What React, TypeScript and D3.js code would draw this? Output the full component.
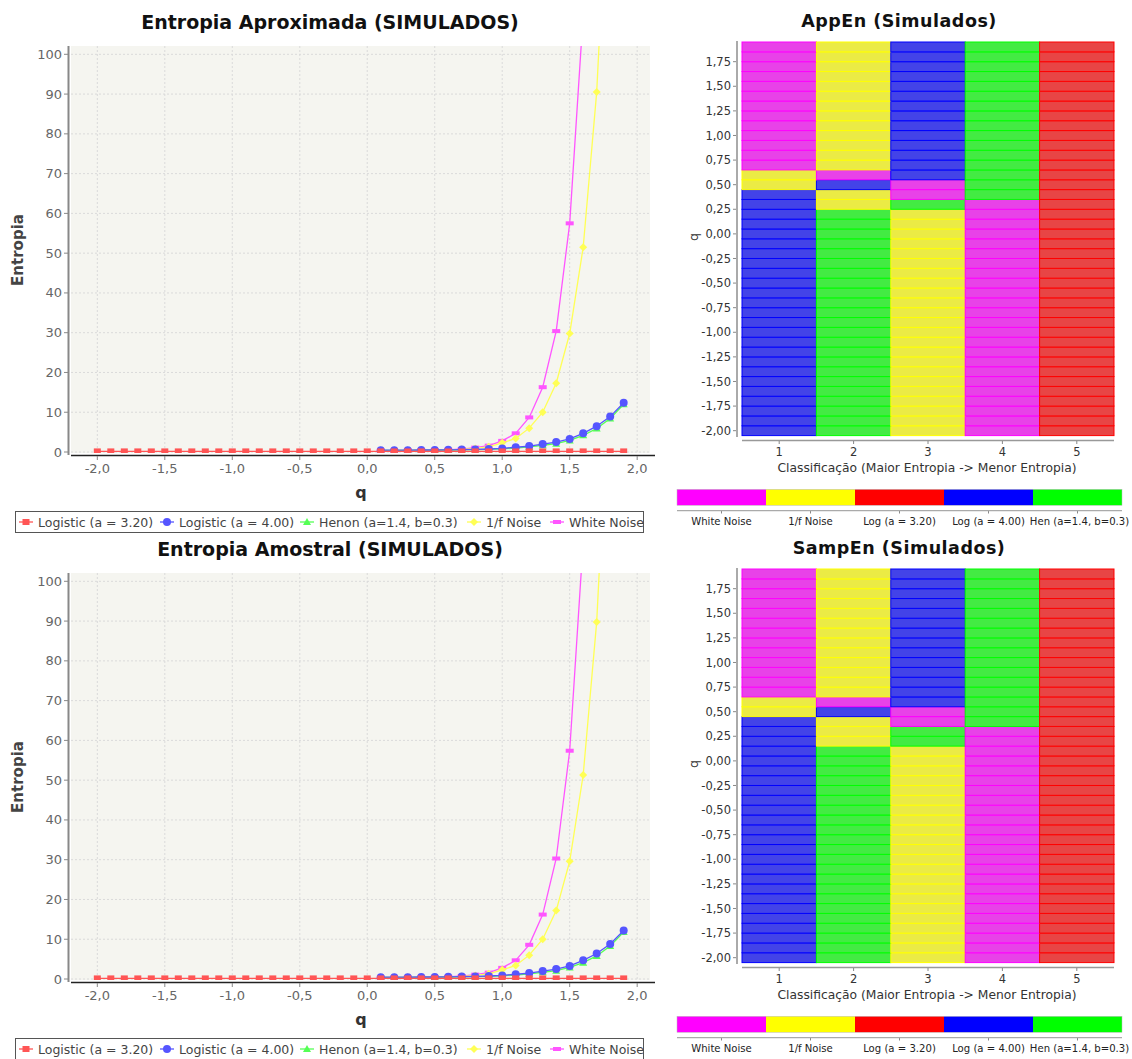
import React from 'react';
import * as d3 from 'd3';

// q values (x of line charts, rows of heatmaps)
const qAll = [
  -2.0, -1.9, -1.8, -1.7, -1.6, -1.5, -1.4, -1.3, -1.2, -1.1,
  -1.0, -0.9, -0.8, -0.7, -0.6, -0.5, -0.4, -0.3, -0.2, -0.1,
  0.0, 0.1, 0.2, 0.3, 0.4, 0.5, 0.6, 0.7, 0.8, 0.9,
  1.0, 1.1, 1.2, 1.3, 1.4, 1.5, 1.6, 1.7, 1.8, 1.9,
];
const qPos = [0.1, 0.2, 0.3, 0.4, 0.5, 0.6, 0.7, 0.8, 0.9, 1.0, 1.1, 1.2, 1.3, 1.4, 1.5, 1.6, 1.7, 1.8, 1.9];

// Entropia Aproximada
const appLog320 = [
  0.15, 0.15, 0.15, 0.15, 0.15, 0.15, 0.15, 0.15, 0.15, 0.15,
  0.15, 0.15, 0.15, 0.15, 0.15, 0.15, 0.15, 0.15, 0.15, 0.15,
  0.15, 0.15, 0.15, 0.15, 0.15, 0.15, 0.15, 0.15, 0.15, 0.15,
  0.15, 0.15, 0.15, 0.15, 0.15, 0.15, 0.15, 0.15, 0.15, 0.15,
];
const appLog400 = [0.45, 0.45, 0.45, 0.5, 0.5, 0.55, 0.6, 0.65, 0.75, 0.9, 1.2, 1.5, 2.0, 2.5, 3.3, 4.7, 6.5, 8.9, 12.4];
const appHenon = [0.4, 0.4, 0.4, 0.45, 0.45, 0.5, 0.55, 0.6, 0.65, 0.8, 1.0, 1.3, 1.7, 2.1, 2.9, 4.2, 5.9, 8.4, 12.0];
const appPink = [0.35, 0.35, 0.4, 0.4, 0.45, 0.5, 0.65, 0.9, 1.3, 2.3, 3.4, 6.0, 10.0, 17.3, 29.8, 51.5, 90.5, 158, 280];
const appWhite = [0.3, 0.3, 0.35, 0.4, 0.45, 0.55, 0.75, 1.1, 1.6, 2.8, 4.7, 8.7, 16.3, 30.4, 57.5, 110, 205, 385, 720];

// Entropia Amostral
const sampLog320 = [
  0.15, 0.15, 0.15, 0.15, 0.15, 0.15, 0.15, 0.15, 0.15, 0.15,
  0.15, 0.15, 0.15, 0.15, 0.15, 0.15, 0.15, 0.15, 0.15, 0.15,
  0.15, 0.15, 0.15, 0.15, 0.15, 0.15, 0.15, 0.15, 0.15, 0.15,
  0.15, 0.15, 0.15, 0.15, 0.15, 0.15, 0.15, 0.15, 0.15, 0.15,
];
const sampLog400 = [0.45, 0.45, 0.45, 0.5, 0.5, 0.55, 0.6, 0.65, 0.75, 0.9, 1.2, 1.5, 2.0, 2.5, 3.3, 4.7, 6.4, 8.8, 12.2];
const sampHenon = [0.4, 0.4, 0.4, 0.45, 0.45, 0.5, 0.55, 0.6, 0.65, 0.8, 1.0, 1.3, 1.7, 2.1, 2.9, 4.1, 5.8, 8.3, 11.8];
const sampPink = [0.35, 0.35, 0.4, 0.4, 0.45, 0.5, 0.65, 0.9, 1.3, 2.3, 3.4, 6.0, 10.0, 17.2, 29.6, 51.3, 89.8, 157, 278];
const sampWhite = [0.3, 0.3, 0.35, 0.4, 0.45, 0.55, 0.75, 1.1, 1.6, 2.8, 4.7, 8.6, 16.2, 30.3, 57.4, 110, 205, 385, 720];

const yTicks = [0, 10, 20, 30, 40, 50, 60, 70, 80, 90, 100];
const xTicks = [-2.0, -1.5, -1.0, -0.5, 0.0, 0.5, 1.0, 1.5, 2.0];
const heatYTicks = [-2.0, -1.75, -1.5, -1.25, -1.0, -0.75, -0.5, -0.25, 0.0, 0.25, 0.5, 0.75, 1.0, 1.25, 1.5, 1.75];
const ranks = [1, 2, 3, 4, 5];

// ranking bands [qFrom, qTo, order rank1..rank5]
const appEnBands: [number, number, string[]][] = [
  [-2.0, 0.2, ['L4', 'HN', 'PN', 'WN', 'L3']],
  [0.3, 0.3, ['L4', 'PN', 'HN', 'WN', 'L3']],
  [0.4, 0.4, ['L4', 'PN', 'WN', 'HN', 'L3']],
  [0.5, 0.5, ['PN', 'L4', 'WN', 'HN', 'L3']],
  [0.6, 0.6, ['PN', 'WN', 'L4', 'HN', 'L3']],
  [0.7, 1.9, ['WN', 'PN', 'L4', 'HN', 'L3']],
];
const sampEnBands: [number, number, string[]][] = [
  [-2.0, 0.1, ['L4', 'HN', 'PN', 'WN', 'L3']],
  [0.2, 0.3, ['L4', 'PN', 'HN', 'WN', 'L3']],
  [0.4, 0.4, ['L4', 'PN', 'WN', 'HN', 'L3']],
  [0.5, 0.5, ['PN', 'L4', 'WN', 'HN', 'L3']],
  [0.6, 0.6, ['PN', 'WN', 'L4', 'HN', 'L3']],
  [0.7, 1.9, ['WN', 'PN', 'L4', 'HN', 'L3']],
];

const legendCodes = ['WN', 'PN', 'L3', 'L4', 'HN'];
const legendNames = ['White Noise', '1/f Noise', 'Log (a = 3.20)', 'Log (a = 4.00)', 'Hen (a=1.4, b=0.3)'];

const pureColor: Record<string, string> = { WN: '#ff00ff', PN: '#ffff00', L3: '#ff0000', L4: '#0000ff', HN: '#00ff00' };
const cellColor: Record<string, string> = { WN: '#e842e8', PN: '#ebeb45', L3: '#e84545', L4: '#4343e8', HN: '#43eb43' };

const seriesNames = ['Logistic (a = 3.20)', 'Logistic (a = 4.00)', 'Henon (a=1.4, b=0.3)', '1/f Noise', 'White Noise'];
const seriesColors = ['#ff5555', '#5555ff', '#55ff55', '#ffff55', '#ff55ff'];
const seriesShapes = ['square', 'circle', 'triangle', 'diamond', 'hrect'];
const legendMarkX = [26, 167, 307, 474, 557];

const loc = d3.formatLocale({ decimal: ',', thousands: '.', grouping: [3], currency: ['', ''], minus: '-' });
const fmt1 = loc.format('.1f');
const fmt2 = loc.format('.2f');

const FONT = 'DejaVu Sans, sans-serif';
const OFFSET = 527;

function Marker({ shape, cx, cy, color }: { shape: string; cx: number; cy: number; color: string }) {
  if (shape === 'square') return <rect x={cx - 3.5} y={cy - 3} width={7} height={6} fill={color} />;
  if (shape === 'circle') return <circle cx={cx} cy={cy} r={4} fill={color} />;
  if (shape === 'triangle') return <path d={`M${cx},${cy - 4}L${cx + 4},${cy + 3}L${cx - 4},${cy + 3}Z`} fill={color} />;
  if (shape === 'diamond') return <path d={`M${cx},${cy - 4}L${cx + 4},${cy}L${cx},${cy + 4}L${cx - 4},${cy}Z`} fill={color} />;
  return <rect x={cx - 4} y={cy - 2} width={8} height={4} fill={color} />;
}

function LineChart({ top, title, id, values }: { top: number; title: string; id: string; values: number[][] }) {
  const pl = 71, pr = 650, pt = top + 46, pb = top + 453;
  const x = d3.scaleLinear().domain([-2.195, 2.095]).range([pl, pr]);
  const y = d3.scaleLinear().domain([-0.25, 102.09]).range([pb, pt]);
  const line = d3.line<[number, number]>().x(d => x(d[0])).y(d => y(d[1]));
  const series = values.map((v, i) => (i === 0 ? qAll : qPos).map((q, j) => [q, v[j]] as [number, number]));
  const order = [4, 3, 2, 1, 0];
  return (
    <g>
      <text x={330} y={top + 29} textAnchor="middle" fontFamily={FONT} fontWeight="bold" fontSize={19} fill="#111">{title}</text>
      <clipPath id={id}><rect x={pl} y={pt} width={pr - pl} height={pb - pt} /></clipPath>
      <rect x={pl} y={pt} width={pr - pl} height={pb - pt} fill="#f5f5f0" />
      {xTicks.map(t => (
        <line key={'gx' + t} x1={x(t)} x2={x(t)} y1={pt} y2={pb} stroke="#dadada" strokeDasharray="2,2" />
      ))}
      {yTicks.map(t => (
        <line key={'gy' + t} x1={pl} x2={pr} y1={y(t)} y2={y(t)} stroke="#dadada" strokeDasharray="2,2" />
      ))}
      <g clipPath={`url(#${id})`}>
        {order.map(i => (
          <g key={'s' + i}>
            <path d={line(series[i]) || ''} fill="none" stroke={seriesColors[i]} strokeWidth={1.3} />
            {series[i].map((d, j) => (
              <Marker key={j} shape={seriesShapes[i]} cx={x(d[0])} cy={y(d[1])} color={seriesColors[i]} />
            ))}
          </g>
        ))}
      </g>
      {/* y axis */}
      <line x1={68.5} x2={68.5} y1={pt} y2={pb + 2} stroke="#888" strokeWidth={2} />
      {yTicks.map(t => (
        <g key={'yt' + t}>
          <line x1={64} x2={68} y1={y(t)} y2={y(t)} stroke="#888" />
          <text x={62} y={y(t)} dy="0.35em" textAnchor="end" fontFamily={FONT} fontSize={13} fill="#666">{t}</text>
        </g>
      ))}
      <text transform={`translate(23,${top + 250}) rotate(-90)`} textAnchor="middle" fontFamily={FONT} fontWeight="bold" fontSize={15} fill="#444">Entropia</text>
      {/* x axis */}
      <line x1={pl} x2={655} y1={pb + 2.5} y2={pb + 2.5} stroke="#222" strokeWidth={1.5} />
      {xTicks.map(t => (
        <g key={'xt' + t}>
          <line x1={x(t)} x2={x(t)} y1={pb + 3} y2={pb + 7} stroke="#888" />
          <text x={x(t)} y={top + 468} dy="0.35em" textAnchor="middle" fontFamily={FONT} fontSize={13} fill="#666">{fmt1(t)}</text>
        </g>
      ))}
      <text x={361} y={top + 498} textAnchor="middle" fontFamily={FONT} fontWeight="bold" fontSize={16} fill="#333">q</text>
      {/* legend */}
      <rect x={15.5} y={top + 511.5} width={628} height={21} fill="#fff" stroke="#555" />
      {seriesNames.map((n, i) => (
        <g key={'lg' + i}>
          <line x1={legendMarkX[i] - 7} x2={legendMarkX[i] + 7} y1={top + 522} y2={top + 522} stroke={seriesColors[i]} strokeWidth={1.3} />
          <Marker shape={seriesShapes[i]} cx={legendMarkX[i]} cy={top + 522} color={seriesColors[i]} />
          <text x={legendMarkX[i] + 12} y={top + 522} dy="0.36em" fontFamily={FONT} fontSize={12.5} fill="#444">{n}</text>
        </g>
      ))}
    </g>
  );
}

function HeatMap({ top, title, bands }: { top: number; title: string; bands: [number, number, string[]][] }) {
  const x = d3.scaleLinear().domain([0.5, 5.5]).range([742, 1114]);
  const y = d3.scaleLinear().domain([-2.05, 1.95]).range([top + 435.6, top + 42]);
  const cells = qAll.flatMap(q => {
    const band = bands.find(b => q >= b[0] - 1e-9 && q <= b[1] + 1e-9)!;
    return band[2].map((code, i) => ({ q, rank: i + 1, code }));
  });
  const lb = d3.scaleBand().domain(legendCodes).range([677, 1122]);
  const barTop = top + 489.3;
  return (
    <g>
      <text x={899} y={top + 27} textAnchor="middle" fontFamily={FONT} fontWeight="bold" fontSize={17.5} fill="#111" letterSpacing={0.5}>{title}</text>
      {cells.map((c, i) => (
        <rect key={i} x={x(c.rank - 0.5)} y={y(c.q + 0.05)} width={x(c.rank + 0.5) - x(c.rank - 0.5)}
          height={y(c.q - 0.05) - y(c.q + 0.05)} fill={cellColor[c.code]} stroke={pureColor[c.code]} strokeWidth={1} />
      ))}
      {/* y axis */}
      <line x1={737} x2={737} y1={top + 41} y2={top + 437} stroke="#aaa" strokeWidth={2} />
      {heatYTicks.map(t => (
        <g key={'hy' + t}>
          <line x1={733} x2={736} y1={y(t)} y2={y(t)} stroke="#888" />
          <text x={731} y={y(t)} dy="0.35em" textAnchor="end" fontFamily={FONT} fontSize={11.5} fill="#333">{fmt2(t)}</text>
        </g>
      ))}
      <text transform={`translate(698,${top + 237}) rotate(-90)`} textAnchor="middle" fontFamily={FONT} fontSize={12.5} fill="#333">q</text>
      {/* x axis */}
      <line x1={742} x2={1114} y1={top + 440.5} y2={top + 440.5} stroke="#999" strokeWidth={1.5} />
      {ranks.map(r => (
        <g key={'hx' + r}>
          <line x1={x(r)} x2={x(r)} y1={top + 441} y2={top + 444} stroke="#888" />
          <text x={x(r)} y={top + 452} dy="0.35em" textAnchor="middle" fontFamily={FONT} fontSize={11.5} fill="#333">{r}</text>
        </g>
      ))}
      <text x={927} y={top + 468} dy="0.35em" textAnchor="middle" fontFamily={FONT} fontSize={12.3} fill="#333">Classificação (Maior Entropia -&gt; Menor Entropia)</text>
      {/* colour legend */}
      {legendCodes.map((c, i) => (
        <g key={'cl' + c}>
          <rect x={lb(c)!} y={barTop} width={lb.bandwidth()} height={16} fill={pureColor[c]} />
          <line x1={lb(c)! + lb.bandwidth() / 2} x2={lb(c)! + lb.bandwidth() / 2} y1={top + 511} y2={top + 513.5} stroke="#888" />
          <text x={lb(c)! + lb.bandwidth() / 2 + (i === 4 ? 2 : 0)} y={top + 521.7} dy="0.35em" textAnchor="middle" fontFamily={FONT} fontSize={10.1} fill="#222">{legendNames[i]}</text>
        </g>
      ))}
      <rect x={677} y={barTop} width={445} height={16} fill="none" stroke="#bbb" strokeWidth={0.5} />
      <line x1={677} x2={1122} y1={top + 510.7} y2={top + 510.7} stroke="#aaa" strokeWidth={1.2} />
    </g>
  );
}

export default function App() {
  return (
    <svg width={1132} height={1059} style={{ position: 'absolute', left: 0, top: 0, background: '#fff' }}>
      <rect width={1132} height={1059} fill="#fff" />
      <LineChart top={0} id="clipA" title="Entropia Aproximada (SIMULADOS)"
        values={[appLog320, appLog400, appHenon, appPink, appWhite]} />
      <LineChart top={OFFSET} id="clipB" title="Entropia Amostral (SIMULADOS)"
        values={[sampLog320, sampLog400, sampHenon, sampPink, sampWhite]} />
      <HeatMap top={0} title="AppEn (Simulados)" bands={appEnBands} />
      <HeatMap top={OFFSET} title="SampEn (Simulados)" bands={sampEnBands} />
    </svg>
  );
}
